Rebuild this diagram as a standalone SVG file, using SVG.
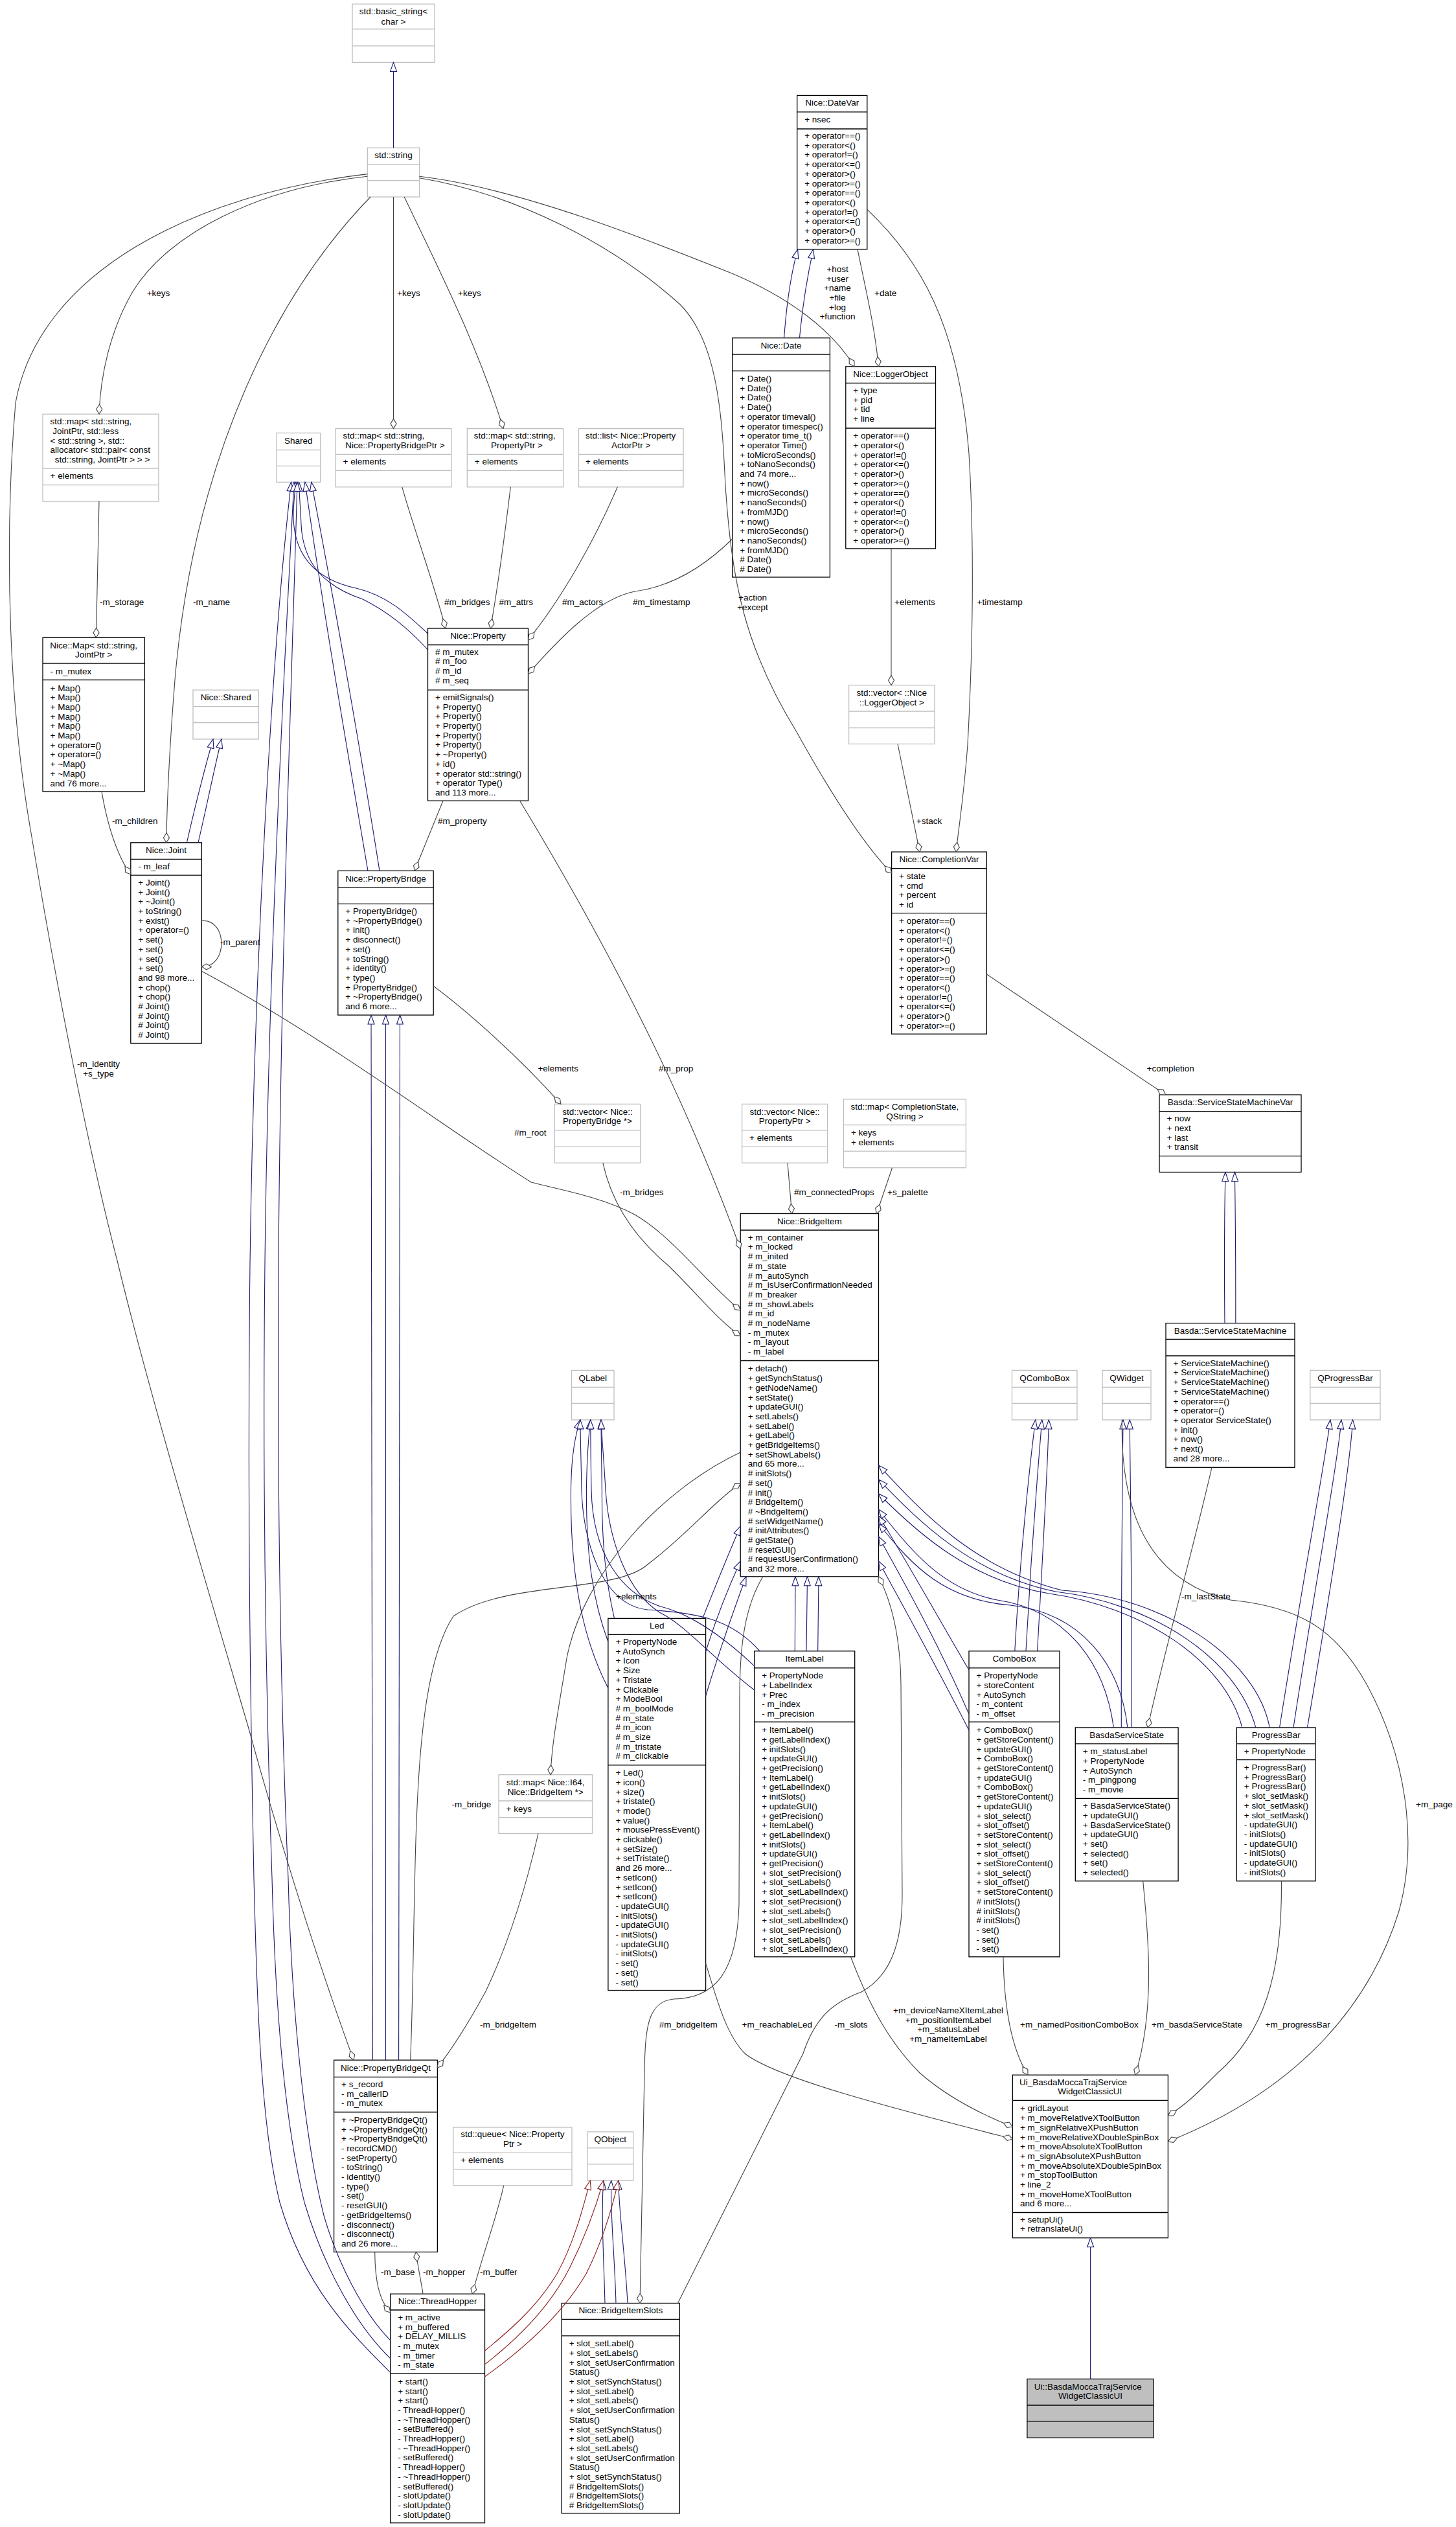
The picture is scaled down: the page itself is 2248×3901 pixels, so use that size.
<svg xmlns="http://www.w3.org/2000/svg" width="2248" height="3901" viewBox="0 0 2248 3901">
<defs>
<style>
.t{font-family:"Liberation Sans",Arial,Helvetica,sans-serif;font-size:13.5px;fill:#000}
.c{text-anchor:middle}
.bk{fill:#fff;stroke:#000;stroke-width:1.3}
.gy{fill:#fff;stroke:#bfbfbf;stroke-width:1.3}
.sk{fill:none;stroke:#000;stroke-width:1.3}
.sg{fill:none;stroke:#bfbfbf;stroke-width:1.3}
.e{fill:none;stroke:#404040;stroke-width:1.1;marker-end:url(#dia)}
.i{fill:none;stroke:#191970;stroke-width:1.1;marker-end:url(#tri)}
.r{fill:none;stroke:#8b1a1a;stroke-width:1.1;marker-end:url(#trir)}
</style>
<marker id="tri" viewBox="0 0 16 12" refX="15" refY="6" markerWidth="16" markerHeight="12" markerUnits="userSpaceOnUse" orient="auto"><path d="M1,1 L15,6 L1,11 Z" fill="#fff" stroke="#191970" stroke-width="1.1"/></marker>
<marker id="trir" viewBox="0 0 16 12" refX="15" refY="6" markerWidth="16" markerHeight="12" markerUnits="userSpaceOnUse" orient="auto"><path d="M1,1 L15,6 L1,11 Z" fill="#fff" stroke="#8b1a1a" stroke-width="1.1"/></marker>
<marker id="dia" viewBox="0 0 17 12" refX="16" refY="6" markerWidth="17" markerHeight="12" markerUnits="userSpaceOnUse" orient="auto"><path d="M1,6 L8.5,1.5 L16,6 L8.5,10.5 Z" fill="#fff" stroke="#404040" stroke-width="1.1"/></marker>
</defs>
<rect x="0" y="0" width="2248" height="3901" fill="#fff"/>

<g id="nodes">
<g id="n_basic_string">
<rect class="gy" x="544" y="6.2" width="127" height="90.2"/>
<path class="sg" d="M544,44.8H671M544,70.9H671"/>
<text class="t c" x="607.5" y="22">std::basic_string&lt;</text>
<text class="t c" x="607.5" y="37.5">char &gt;</text>
</g>
<g id="n_string">
<rect class="gy" x="567.3" y="228.2" width="80.3" height="75.8"/>
<path class="sg" d="M567.3,253.7H647.6M567.3,278.6H647.6"/>
<text class="t c" x="607.5" y="243.9">std::string</text>
</g>
<g id="n_map_joint">
<rect class="gy" x="66" y="639.2" width="178.9" height="134.9"/>
<path class="sg" d="M66,723.1H244.9M66,748.6H244.9"/>
<text class="t" x="77.5" y="654.9">std::map&lt; std::string,</text>
<text class="t" x="81.3" y="669.8">JointPtr, std::less</text>
<text class="t" x="77.5" y="684.7">&lt; std::string &gt;, std::</text>
<text class="t" x="77.5" y="699.1">allocator&lt; std::pair&lt; const</text>
<text class="t" x="84.7" y="714">std::string, JointPtr &gt; &gt; &gt;</text>
<text class="t" x="77.5" y="738.8">+ elements</text>
</g>
<g id="n_shared">
<rect class="gy" x="427.1" y="668.4" width="67.5" height="75.9"/>
<path class="sg" d="M427.1,694.6H494.6M427.1,719.4H494.6"/>
<text class="t c" x="460.8" y="684.7">Shared</text>
</g>
<g id="n_map_pbp">
<rect class="gy" x="518" y="661.6" width="178.9" height="90.2"/>
<path class="sg" d="M518,701.4H696.9M518,726.3H696.9"/>
<text class="t" x="529.5" y="677.3">std::map&lt; std::string,</text>
<text class="t" x="533.3" y="692.2">Nice::PropertyBridgePtr &gt;</text>
<text class="t" x="529.5" y="717.1">+ elements</text>
</g>
<g id="n_map_pp">
<rect class="gy" x="721.3" y="661.6" width="148.3" height="90.2"/>
<path class="sg" d="M721.3,701.4H869.6M721.3,726.3H869.6"/>
<text class="t" x="731.8" y="677.3">std::map&lt; std::string,</text>
<text class="t" x="758.1" y="692.2">PropertyPtr &gt;</text>
<text class="t" x="732.8" y="717.1">+ elements</text>
</g>
<g id="n_list_pa">
<rect class="gy" x="893.5" y="661.6" width="161.5" height="90.2"/>
<path class="sg" d="M893.5,701.4H1055M893.5,726.3H1055"/>
<text class="t" x="904" y="677.3">std::list&lt; Nice::Property</text>
<text class="t" x="944" y="692.2">ActorPtr &gt;</text>
<text class="t" x="904" y="717.1">+ elements</text>
</g>
<g id="n_datevar">
<rect class="bk" x="1230.7" y="147.4" width="108.1" height="237.5"/>
<path class="sk" d="M1230.7,172.9H1338.8M1230.7,199H1338.8"/>
<text class="t c" x="1284.8" y="163.1">Nice::DateVar</text>
<text class="t" x="1242.2" y="189.2">+ nsec</text>
<text class="t" y="214"><tspan x="1242.2">+ operator==()</tspan><tspan x="1242.2" dy="14.7">+ operator&lt;()</tspan><tspan x="1242.2" dy="14.7">+ operator!=()</tspan><tspan x="1242.2" dy="14.7">+ operator&lt;=()</tspan><tspan x="1242.2" dy="14.7">+ operator&gt;()</tspan><tspan x="1242.2" dy="14.7">+ operator&gt;=()</tspan><tspan x="1242.2" dy="14.7">+ operator==()</tspan><tspan x="1242.2" dy="14.7">+ operator&lt;()</tspan><tspan x="1242.2" dy="14.7">+ operator!=()</tspan><tspan x="1242.2" dy="14.7">+ operator&lt;=()</tspan><tspan x="1242.2" dy="14.7">+ operator&gt;()</tspan><tspan x="1242.2" dy="14.7">+ operator&gt;=()</tspan></text>
</g>
<g id="n_date">
<rect class="bk" x="1130.7" y="521.7" width="150.7" height="369.3"/>
<path class="sk" d="M1130.7,547.2H1281.4M1130.7,572.7H1281.4"/>
<text class="t c" x="1206" y="538">Nice::Date</text>
<text class="t" y="589"><tspan x="1142.2">+ Date()</tspan><tspan x="1142.2" dy="14.7">+ Date()</tspan><tspan x="1142.2" dy="14.7">+ Date()</tspan><tspan x="1142.2" dy="14.7">+ Date()</tspan><tspan x="1142.2" dy="14.7">+ operator timeval()</tspan><tspan x="1142.2" dy="14.7">+ operator timespec()</tspan><tspan x="1142.2" dy="14.7">+ operator time_t()</tspan><tspan x="1142.2" dy="14.7">+ operator Time()</tspan><tspan x="1142.2" dy="14.7">+ toMicroSeconds()</tspan><tspan x="1142.2" dy="14.7">+ toNanoSeconds()</tspan><tspan x="1142.2" dy="14.7">and 74 more...</tspan><tspan x="1142.2" dy="14.7">+ now()</tspan><tspan x="1142.2" dy="14.7">+ microSeconds()</tspan><tspan x="1142.2" dy="14.7">+ nanoSeconds()</tspan><tspan x="1142.2" dy="14.7">+ fromMJD()</tspan><tspan x="1142.2" dy="14.7">+ now()</tspan><tspan x="1142.2" dy="14.7">+ microSeconds()</tspan><tspan x="1142.2" dy="14.7">+ nanoSeconds()</tspan><tspan x="1142.2" dy="14.7">+ fromMJD()</tspan><tspan x="1142.2" dy="14.7"># Date()</tspan><tspan x="1142.2" dy="14.7"># Date()</tspan></text>
</g>
<g id="n_logger">
<rect class="bk" x="1305.8" y="565.8" width="138.7" height="281.1"/>
<path class="sk" d="M1305.8,591.3H1444.5M1305.8,661H1444.5"/>
<text class="t c" x="1375.1" y="582.1">Nice::LoggerObject</text>
<text class="t" y="607"><tspan x="1317.3">+ type</tspan><tspan x="1317.3" dy="14.7">+ pid</tspan><tspan x="1317.3" dy="14.7">+ tid</tspan><tspan x="1317.3" dy="14.7">+ line</tspan></text>
<text class="t" y="677.3"><tspan x="1317.3">+ operator==()</tspan><tspan x="1317.3" dy="14.7">+ operator&lt;()</tspan><tspan x="1317.3" dy="14.7">+ operator!=()</tspan><tspan x="1317.3" dy="14.7">+ operator&lt;=()</tspan><tspan x="1317.3" dy="14.7">+ operator&gt;()</tspan><tspan x="1317.3" dy="14.7">+ operator&gt;=()</tspan><tspan x="1317.3" dy="14.7">+ operator==()</tspan><tspan x="1317.3" dy="14.7">+ operator&lt;()</tspan><tspan x="1317.3" dy="14.7">+ operator!=()</tspan><tspan x="1317.3" dy="14.7">+ operator&lt;=()</tspan><tspan x="1317.3" dy="14.7">+ operator&gt;()</tspan><tspan x="1317.3" dy="14.7">+ operator&gt;=()</tspan></text>
</g>
<g id="n_nicemap">
<rect class="bk" x="66" y="984.3" width="157.4" height="237.6"/>
<path class="sk" d="M66,1024.1H223.4M66,1049.6H223.4"/>
<text class="t c" x="144.7" y="1001.3">Nice::Map&lt; std::string,</text>
<text class="t c" x="144.7" y="1014.9">JointPtr &gt;</text>
<text class="t" x="77.5" y="1041.1">- m_mutex</text>
<text class="t" y="1066.5"><tspan x="77.5">+ Map()</tspan><tspan x="77.5" dy="14.7">+ Map()</tspan><tspan x="77.5" dy="14.7">+ Map()</tspan><tspan x="77.5" dy="14.7">+ Map()</tspan><tspan x="77.5" dy="14.7">+ Map()</tspan><tspan x="77.5" dy="14.7">+ Map()</tspan><tspan x="77.5" dy="14.7">+ operator=()</tspan><tspan x="77.5" dy="14.7">+ operator=()</tspan><tspan x="77.5" dy="14.7">+ ~Map()</tspan><tspan x="77.5" dy="14.7">+ ~Map()</tspan><tspan x="77.5" dy="14.7">and 76 more...</tspan></text>
</g>
<g id="n_niceshared">
<rect class="gy" x="298" y="1065.2" width="101.4" height="75.8"/>
<path class="sg" d="M298,1090.7H399.4M298,1115.5H399.4"/>
<text class="t c" x="348.7" y="1080.9">Nice::Shared</text>
</g>
<g id="n_joint">
<rect class="bk" x="201.8" y="1300.8" width="109.6" height="309.7"/>
<path class="sk" d="M201.8,1326.3H311.4M201.8,1351.2H311.4"/>
<text class="t c" x="256.6" y="1317.1">Nice::Joint</text>
<text class="t" x="213.3" y="1342">- m_leaf</text>
<text class="t" y="1366.9"><tspan x="213.3">+ Joint()</tspan><tspan x="213.3" dy="14.7">+ Joint()</tspan><tspan x="213.3" dy="14.7">+ ~Joint()</tspan><tspan x="213.3" dy="14.7">+ toString()</tspan><tspan x="213.3" dy="14.7">+ exist()</tspan><tspan x="213.3" dy="14.7">+ operator=()</tspan><tspan x="213.3" dy="14.7">+ set()</tspan><tspan x="213.3" dy="14.7">+ set()</tspan><tspan x="213.3" dy="14.7">+ set()</tspan><tspan x="213.3" dy="14.7">+ set()</tspan><tspan x="213.3" dy="14.7">and 98 more...</tspan><tspan x="213.3" dy="14.7">+ chop()</tspan><tspan x="213.3" dy="14.7">+ chop()</tspan><tspan x="213.3" dy="14.7"># Joint()</tspan><tspan x="213.3" dy="14.7"># Joint()</tspan><tspan x="213.3" dy="14.7"># Joint()</tspan><tspan x="213.3" dy="14.7"># Joint()</tspan></text>
</g>
<g id="n_property">
<rect class="bk" x="660.5" y="970" width="155" height="266.2"/>
<path class="sk" d="M660.5,995.5H815.5M660.5,1065.2H815.5"/>
<text class="t c" x="738" y="985.7">Nice::Property</text>
<text class="t" y="1010.6"><tspan x="672">#&#160;m_mutex</tspan><tspan x="672" dy="14.7">#&#160;m_foo</tspan><tspan x="672" dy="14.7">#&#160;m_id</tspan><tspan x="672" dy="14.7">#&#160;m_seq</tspan></text>
<text class="t" y="1080.9"><tspan x="672">+ emitSignals()</tspan><tspan x="672" dy="14.7">+ Property()</tspan><tspan x="672" dy="14.7">+ Property()</tspan><tspan x="672" dy="14.7">+ Property()</tspan><tspan x="672" dy="14.7">+ Property()</tspan><tspan x="672" dy="14.7">+ Property()</tspan><tspan x="672" dy="14.7">+ ~Property()</tspan><tspan x="672" dy="14.7">+ id()</tspan><tspan x="672" dy="14.7">+ operator std::string()</tspan><tspan x="672" dy="14.7">+ operator Type()</tspan><tspan x="672" dy="14.7">and 113 more...</tspan></text>
</g>
<g id="n_propbridge">
<rect class="bk" x="521.8" y="1344.3" width="147.4" height="222.7"/>
<path class="sk" d="M521.8,1369.8H669.2M521.8,1395.3H669.2"/>
<text class="t c" x="595.5" y="1361.3">Nice::PropertyBridge</text>
<text class="t" y="1411"><tspan x="533.3">+ PropertyBridge()</tspan><tspan x="533.3" dy="14.7">+ ~PropertyBridge()</tspan><tspan x="533.3" dy="14.7">+ init()</tspan><tspan x="533.3" dy="14.7">+ disconnect()</tspan><tspan x="533.3" dy="14.7">+ set()</tspan><tspan x="533.3" dy="14.7">+ toString()</tspan><tspan x="533.3" dy="14.7">+ identity()</tspan><tspan x="533.3" dy="14.7">+ type()</tspan><tspan x="533.3" dy="14.7">+ PropertyBridge()</tspan><tspan x="533.3" dy="14.7">+ ~PropertyBridge()</tspan><tspan x="533.3" dy="14.7">and 6 more...</tspan></text>
</g>
<g id="n_vec_logger">
<rect class="gy" x="1310.6" y="1057.7" width="132.4" height="90.8"/>
<path class="sg" d="M1310.6,1098H1443M1310.6,1123.6H1443"/>
<text class="t c" x="1376.8" y="1074">std::vector&lt; ::Nice</text>
<text class="t c" x="1376.8" y="1088.9">::LoggerObject &gt;</text>
</g>
<g id="n_completionvar">
<rect class="bk" x="1376.6" y="1315.1" width="146.8" height="281.1"/>
<path class="sk" d="M1376.6,1340.6H1523.4M1376.6,1409.6H1523.4"/>
<text class="t c" x="1450" y="1330.8">Nice::CompletionVar</text>
<text class="t" y="1356.9"><tspan x="1388.1">+ state</tspan><tspan x="1388.1" dy="14.7">+ cmd</tspan><tspan x="1388.1" dy="14.7">+ percent</tspan><tspan x="1388.1" dy="14.7">+ id</tspan></text>
<text class="t" y="1426"><tspan x="1388.1">+ operator==()</tspan><tspan x="1388.1" dy="14.7">+ operator&lt;()</tspan><tspan x="1388.1" dy="14.7">+ operator!=()</tspan><tspan x="1388.1" dy="14.7">+ operator&lt;=()</tspan><tspan x="1388.1" dy="14.7">+ operator&gt;()</tspan><tspan x="1388.1" dy="14.7">+ operator&gt;=()</tspan><tspan x="1388.1" dy="14.7">+ operator==()</tspan><tspan x="1388.1" dy="14.7">+ operator&lt;()</tspan><tspan x="1388.1" dy="14.7">+ operator!=()</tspan><tspan x="1388.1" dy="14.7">+ operator&lt;=()</tspan><tspan x="1388.1" dy="14.7">+ operator&gt;()</tspan><tspan x="1388.1" dy="14.7">+ operator&gt;=()</tspan></text>
</g>
<g id="n_vec_pb">
<rect class="gy" x="856.2" y="1704.4" width="132.5" height="90.8"/>
<path class="sg" d="M856.2,1744.8H988.7M856.2,1770.3H988.7"/>
<text class="t c" x="922.5" y="1720.7">std::vector&lt; Nice::</text>
<text class="t c" x="922.5" y="1735">PropertyBridge *&gt;</text>
</g>
<g id="n_vec_pp">
<rect class="gy" x="1145.6" y="1704.4" width="132" height="90.8"/>
<path class="sg" d="M1145.6,1744.8H1277.6M1145.6,1770.3H1277.6"/>
<text class="t c" x="1211.6" y="1720.7">std::vector&lt; Nice::</text>
<text class="t c" x="1211.6" y="1735">PropertyPtr &gt;</text>
<text class="t" x="1157.1" y="1761.1">+ elements</text>
</g>
<g id="n_map_cs">
<rect class="gy" x="1302.4" y="1696.9" width="189" height="105.8"/>
<path class="sg" d="M1302.4,1736.7H1491.4M1302.4,1777.1H1491.4"/>
<text class="t c" x="1396.9" y="1713.2">std::map&lt; CompletionState,</text>
<text class="t c" x="1396.9" y="1728.1">QString &gt;</text>
<text class="t" y="1753"><tspan x="1313.9">+ keys</tspan><tspan x="1313.9" dy="14.7">+ elements</tspan></text>
</g>
<g id="n_bridgeitem">
<rect class="bk" x="1143.2" y="1873.5" width="213.3" height="560.3"/>
<path class="sk" d="M1143.2,1899H1356.5M1143.2,2100.5H1356.5"/>
<text class="t c" x="1249.9" y="1889.8">Nice::BridgeItem</text>
<text class="t" y="1914.7"><tspan x="1154.7">+ m_container</tspan><tspan x="1154.7" dy="14.7">+ m_locked</tspan><tspan x="1154.7" dy="14.7">#&#160;m_inited</tspan><tspan x="1154.7" dy="14.7">#&#160;m_state</tspan><tspan x="1154.7" dy="14.7">#&#160;m_autoSynch</tspan><tspan x="1154.7" dy="14.7">#&#160;m_isUserConfirmationNeeded</tspan><tspan x="1154.7" dy="14.7">#&#160;m_breaker</tspan><tspan x="1154.7" dy="14.7">#&#160;m_showLabels</tspan><tspan x="1154.7" dy="14.7">#&#160;m_id</tspan><tspan x="1154.7" dy="14.7">#&#160;m_nodeName</tspan><tspan x="1154.7" dy="14.7">- m_mutex</tspan><tspan x="1154.7" dy="14.7">- m_layout</tspan><tspan x="1154.7" dy="14.7">- m_label</tspan></text>
<text class="t" y="2117.4"><tspan x="1154.7">+ detach()</tspan><tspan x="1154.7" dy="14.7">+ getSynchStatus()</tspan><tspan x="1154.7" dy="14.7">+ getNodeName()</tspan><tspan x="1154.7" dy="14.7">+ setState()</tspan><tspan x="1154.7" dy="14.7">+ updateGUI()</tspan><tspan x="1154.7" dy="14.7">+ setLabels()</tspan><tspan x="1154.7" dy="14.7">+ setLabel()</tspan><tspan x="1154.7" dy="14.7">+ getLabel()</tspan><tspan x="1154.7" dy="14.7">+ getBridgeItems()</tspan><tspan x="1154.7" dy="14.7">+ setShowLabels()</tspan><tspan x="1154.7" dy="14.7">and 65 more...</tspan><tspan x="1154.7" dy="14.7">#&#160;initSlots()</tspan><tspan x="1154.7" dy="14.7">#&#160;set()</tspan><tspan x="1154.7" dy="14.7">#&#160;init()</tspan><tspan x="1154.7" dy="14.7">#&#160;BridgeItem()</tspan><tspan x="1154.7" dy="14.7">#&#160;~BridgeItem()</tspan><tspan x="1154.7" dy="14.7">#&#160;setWidgetName()</tspan><tspan x="1154.7" dy="14.7">#&#160;initAttributes()</tspan><tspan x="1154.7" dy="14.7">#&#160;getState()</tspan><tspan x="1154.7" dy="14.7">#&#160;resetGUI()</tspan><tspan x="1154.7" dy="14.7">#&#160;requestUserConfirmation()</tspan><tspan x="1154.7" dy="14.7">and 32 more...</tspan></text>
</g>
<g id="n_ssmvar">
<rect class="bk" x="1790" y="1690" width="219" height="119.5"/>
<path class="sk" d="M1790,1715.6H2009M1790,1784.6H2009"/>
<text class="t c" x="1899.5" y="1705.8">Basda::ServiceStateMachineVar</text>
<text class="t" y="1731.3"><tspan x="1801.5">+ now</tspan><tspan x="1801.5" dy="14.7">+ next</tspan><tspan x="1801.5" dy="14.7">+ last</tspan><tspan x="1801.5" dy="14.7">+ transit</tspan></text>
</g>
<g id="n_ssm">
<rect class="bk" x="1800" y="2042.6" width="199" height="222.7"/>
<path class="sk" d="M1800,2067.5H1999M1800,2093H1999"/>
<text class="t c" x="1899.5" y="2059">Basda::ServiceStateMachine</text>
<text class="t" y="2108.7"><tspan x="1811.5">+ ServiceStateMachine()</tspan><tspan x="1811.5" dy="14.7">+ ServiceStateMachine()</tspan><tspan x="1811.5" dy="14.7">+ ServiceStateMachine()</tspan><tspan x="1811.5" dy="14.7">+ ServiceStateMachine()</tspan><tspan x="1811.5" dy="14.7">+ operator==()</tspan><tspan x="1811.5" dy="14.7">+ operator=()</tspan><tspan x="1811.5" dy="14.7">+ operator ServiceState()</tspan><tspan x="1811.5" dy="14.7">+ init()</tspan><tspan x="1811.5" dy="14.7">+ now()</tspan><tspan x="1811.5" dy="14.7">+ next()</tspan><tspan x="1811.5" dy="14.7">and 28 more...</tspan></text>
</g>
<g id="n_qlabel">
<rect class="gy" x="882.5" y="2115.4" width="65.5" height="76.5"/>
<path class="sg" d="M882.5,2141.5H948M882.5,2166.4H948"/>
<text class="t c" x="915.2" y="2131.7">QLabel</text>
</g>
<g id="n_qcombobox">
<rect class="gy" x="1562.5" y="2115.4" width="100.5" height="76.5"/>
<path class="sg" d="M1562.5,2141.5H1663M1562.5,2166.4H1663"/>
<text class="t c" x="1612.8" y="2131.7">QComboBox</text>
</g>
<g id="n_qwidget">
<rect class="gy" x="1702" y="2115.4" width="75" height="76.5"/>
<path class="sg" d="M1702,2141.5H1777M1702,2166.4H1777"/>
<text class="t c" x="1739.5" y="2131.7">QWidget</text>
</g>
<g id="n_qprogressbar">
<rect class="gy" x="2022.8" y="2115.4" width="108.2" height="76.5"/>
<path class="sg" d="M2022.8,2141.5H2131M2022.8,2166.4H2131"/>
<text class="t c" x="2076.9" y="2131.7">QProgressBar</text>
</g>
<g id="n_led">
<rect class="bk" x="938.9" y="2498.4" width="150.7" height="574.1"/>
<path class="sk" d="M938.9,2523.3H1089.6M938.9,2724.8H1089.6"/>
<text class="t c" x="1014.3" y="2514.1">Led</text>
<text class="t" y="2539"><tspan x="950.4">+ PropertyNode</tspan><tspan x="950.4" dy="14.7">+ AutoSynch</tspan><tspan x="950.4" dy="14.7">+ Icon</tspan><tspan x="950.4" dy="14.7">+ Size</tspan><tspan x="950.4" dy="14.7">+ Tristate</tspan><tspan x="950.4" dy="14.7">+ Clickable</tspan><tspan x="950.4" dy="14.7">+ ModeBool</tspan><tspan x="950.4" dy="14.7">#&#160;m_boolMode</tspan><tspan x="950.4" dy="14.7">#&#160;m_state</tspan><tspan x="950.4" dy="14.7">#&#160;m_icon</tspan><tspan x="950.4" dy="14.7">#&#160;m_size</tspan><tspan x="950.4" dy="14.7">#&#160;m_tristate</tspan><tspan x="950.4" dy="14.7">#&#160;m_clickable</tspan></text>
<text class="t" y="2741.1"><tspan x="950.4">+ Led()</tspan><tspan x="950.4" dy="14.7">+ icon()</tspan><tspan x="950.4" dy="14.7">+ size()</tspan><tspan x="950.4" dy="14.7">+ tristate()</tspan><tspan x="950.4" dy="14.7">+ mode()</tspan><tspan x="950.4" dy="14.7">+ value()</tspan><tspan x="950.4" dy="14.7">+ mousePressEvent()</tspan><tspan x="950.4" dy="14.7">+ clickable()</tspan><tspan x="950.4" dy="14.7">+ setSize()</tspan><tspan x="950.4" dy="14.7">+ setTristate()</tspan><tspan x="950.4" dy="14.7">and 26 more...</tspan><tspan x="950.4" dy="14.7">+ setIcon()</tspan><tspan x="950.4" dy="14.7">+ setIcon()</tspan><tspan x="950.4" dy="14.7">+ setIcon()</tspan><tspan x="950.4" dy="14.7">- updateGUI()</tspan><tspan x="950.4" dy="14.7">- initSlots()</tspan><tspan x="950.4" dy="14.7">- updateGUI()</tspan><tspan x="950.4" dy="14.7">- initSlots()</tspan><tspan x="950.4" dy="14.7">- updateGUI()</tspan><tspan x="950.4" dy="14.7">- initSlots()</tspan><tspan x="950.4" dy="14.7">- set()</tspan><tspan x="950.4" dy="14.7">- set()</tspan><tspan x="950.4" dy="14.7">- set()</tspan></text>
</g>
<g id="n_itemlabel">
<rect class="bk" x="1164.7" y="2548.8" width="155" height="472"/>
<path class="sk" d="M1164.7,2574.9H1319.7M1164.7,2658.2H1319.7"/>
<text class="t c" x="1242.2" y="2565.1">ItemLabel</text>
<text class="t" y="2591.2"><tspan x="1176.2">+ PropertyNode</tspan><tspan x="1176.2" dy="14.7">+ LabelIndex</tspan><tspan x="1176.2" dy="14.7">+ Prec</tspan><tspan x="1176.2" dy="14.7">- m_index</tspan><tspan x="1176.2" dy="14.7">- m_precision</tspan></text>
<text class="t" y="2675.2"><tspan x="1176.2">+ ItemLabel()</tspan><tspan x="1176.2" dy="14.7">+ getLabelIndex()</tspan><tspan x="1176.2" dy="14.7">+ initSlots()</tspan><tspan x="1176.2" dy="14.7">+ updateGUI()</tspan><tspan x="1176.2" dy="14.7">+ getPrecision()</tspan><tspan x="1176.2" dy="14.7">+ ItemLabel()</tspan><tspan x="1176.2" dy="14.7">+ getLabelIndex()</tspan><tspan x="1176.2" dy="14.7">+ initSlots()</tspan><tspan x="1176.2" dy="14.7">+ updateGUI()</tspan><tspan x="1176.2" dy="14.7">+ getPrecision()</tspan><tspan x="1176.2" dy="14.7">+ ItemLabel()</tspan><tspan x="1176.2" dy="14.7">+ getLabelIndex()</tspan><tspan x="1176.2" dy="14.7">+ initSlots()</tspan><tspan x="1176.2" dy="14.7">+ updateGUI()</tspan><tspan x="1176.2" dy="14.7">+ getPrecision()</tspan><tspan x="1176.2" dy="14.7">+ slot_setPrecision()</tspan><tspan x="1176.2" dy="14.7">+ slot_setLabels()</tspan><tspan x="1176.2" dy="14.7">+ slot_setLabelIndex()</tspan><tspan x="1176.2" dy="14.7">+ slot_setPrecision()</tspan><tspan x="1176.2" dy="14.7">+ slot_setLabels()</tspan><tspan x="1176.2" dy="14.7">+ slot_setLabelIndex()</tspan><tspan x="1176.2" dy="14.7">+ slot_setPrecision()</tspan><tspan x="1176.2" dy="14.7">+ slot_setLabels()</tspan><tspan x="1176.2" dy="14.7">+ slot_setLabelIndex()</tspan></text>
</g>
<g id="n_combobox">
<rect class="bk" x="1496" y="2548.8" width="140" height="472"/>
<path class="sk" d="M1496,2574.9H1636M1496,2658.2H1636"/>
<text class="t c" x="1566" y="2565.1">ComboBox</text>
<text class="t" y="2591.2"><tspan x="1507.5">+ PropertyNode</tspan><tspan x="1507.5" dy="14.7">+ storeContent</tspan><tspan x="1507.5" dy="14.7">+ AutoSynch</tspan><tspan x="1507.5" dy="14.7">- m_content</tspan><tspan x="1507.5" dy="14.7">- m_offset</tspan></text>
<text class="t" y="2675.2"><tspan x="1507.5">+ ComboBox()</tspan><tspan x="1507.5" dy="14.7">+ getStoreContent()</tspan><tspan x="1507.5" dy="14.7">+ updateGUI()</tspan><tspan x="1507.5" dy="14.7">+ ComboBox()</tspan><tspan x="1507.5" dy="14.7">+ getStoreContent()</tspan><tspan x="1507.5" dy="14.7">+ updateGUI()</tspan><tspan x="1507.5" dy="14.7">+ ComboBox()</tspan><tspan x="1507.5" dy="14.7">+ getStoreContent()</tspan><tspan x="1507.5" dy="14.7">+ updateGUI()</tspan><tspan x="1507.5" dy="14.7">+ slot_select()</tspan><tspan x="1507.5" dy="14.7">+ slot_offset()</tspan><tspan x="1507.5" dy="14.7">+ setStoreContent()</tspan><tspan x="1507.5" dy="14.7">+ slot_select()</tspan><tspan x="1507.5" dy="14.7">+ slot_offset()</tspan><tspan x="1507.5" dy="14.7">+ setStoreContent()</tspan><tspan x="1507.5" dy="14.7">+ slot_select()</tspan><tspan x="1507.5" dy="14.7">+ slot_offset()</tspan><tspan x="1507.5" dy="14.7">+ setStoreContent()</tspan><tspan x="1507.5" dy="14.7">#&#160;initSlots()</tspan><tspan x="1507.5" dy="14.7">#&#160;initSlots()</tspan><tspan x="1507.5" dy="14.7">#&#160;initSlots()</tspan><tspan x="1507.5" dy="14.7">- set()</tspan><tspan x="1507.5" dy="14.7">- set()</tspan><tspan x="1507.5" dy="14.7">- set()</tspan></text>
</g>
<g id="n_basdaservicestate">
<rect class="bk" x="1660.3" y="2666.9" width="158.8" height="236.9"/>
<path class="sk" d="M1660.3,2691.8H1819.1M1660.3,2776.4H1819.1"/>
<text class="t c" x="1739.7" y="2683.3">BasdaServiceState</text>
<text class="t" y="2708.1"><tspan x="1671.8">+ m_statusLabel</tspan><tspan x="1671.8" dy="14.7">+ PropertyNode</tspan><tspan x="1671.8" dy="14.7">+ AutoSynch</tspan><tspan x="1671.8" dy="14.7">- m_pingpong</tspan><tspan x="1671.8" dy="14.7">- m_movie</tspan></text>
<text class="t" y="2792.1"><tspan x="1671.8">+ BasdaServiceState()</tspan><tspan x="1671.8" dy="14.7">+ updateGUI()</tspan><tspan x="1671.8" dy="14.7">+ BasdaServiceState()</tspan><tspan x="1671.8" dy="14.7">+ updateGUI()</tspan><tspan x="1671.8" dy="14.7">+ set()</tspan><tspan x="1671.8" dy="14.7">+ selected()</tspan><tspan x="1671.8" dy="14.7">+ set()</tspan><tspan x="1671.8" dy="14.7">+ selected()</tspan></text>
</g>
<g id="n_progressbar">
<rect class="bk" x="1909.3" y="2666.9" width="121.7" height="236.9"/>
<path class="sk" d="M1909.3,2691.8H2031M1909.3,2716.7H2031"/>
<text class="t c" x="1970.2" y="2683.3">ProgressBar</text>
<text class="t" x="1920.8" y="2708.1">+ PropertyNode</text>
<text class="t" y="2733"><tspan x="1920.8">+ ProgressBar()</tspan><tspan x="1920.8" dy="14.7">+ ProgressBar()</tspan><tspan x="1920.8" dy="14.7">+ ProgressBar()</tspan><tspan x="1920.8" dy="14.7">+ slot_setMask()</tspan><tspan x="1920.8" dy="14.7">+ slot_setMask()</tspan><tspan x="1920.8" dy="14.7">+ slot_setMask()</tspan><tspan x="1920.8" dy="14.7">- updateGUI()</tspan><tspan x="1920.8" dy="14.7">- initSlots()</tspan><tspan x="1920.8" dy="14.7">- updateGUI()</tspan><tspan x="1920.8" dy="14.7">- initSlots()</tspan><tspan x="1920.8" dy="14.7">- updateGUI()</tspan><tspan x="1920.8" dy="14.7">- initSlots()</tspan></text>
</g>
<g id="n_map_i64">
<rect class="gy" x="770" y="2739.7" width="144.5" height="90.8"/>
<path class="sg" d="M770,2780H914.5M770,2805.6H914.5"/>
<text class="t c" x="842.2" y="2756">std::map&lt; Nice::I64,</text>
<text class="t c" x="842.2" y="2770.9">Nice::BridgeItem *&gt;</text>
<text class="t" x="781.5" y="2796.5">+ keys</text>
</g>
<g id="n_propbridgeqt">
<rect class="bk" x="515.6" y="3180.2" width="159.8" height="296.3"/>
<path class="sk" d="M515.6,3206.3H675.4M515.6,3260.5H675.4"/>
<text class="t c" x="595.5" y="3197.1">Nice::PropertyBridgeQt</text>
<text class="t" y="3222"><tspan x="527.1">+ s_record</tspan><tspan x="527.1" dy="14.7">- m_callerID</tspan><tspan x="527.1" dy="14.7">- m_mutex</tspan></text>
<text class="t" y="3276.8"><tspan x="527.1">+ ~PropertyBridgeQt()</tspan><tspan x="527.1" dy="14.7">+ ~PropertyBridgeQt()</tspan><tspan x="527.1" dy="14.7">+ ~PropertyBridgeQt()</tspan><tspan x="527.1" dy="14.7">- recordCMD()</tspan><tspan x="527.1" dy="14.7">- setProperty()</tspan><tspan x="527.1" dy="14.7">- toString()</tspan><tspan x="527.1" dy="14.7">- identity()</tspan><tspan x="527.1" dy="14.7">- type()</tspan><tspan x="527.1" dy="14.7">- set()</tspan><tspan x="527.1" dy="14.7">- resetGUI()</tspan><tspan x="527.1" dy="14.7">- getBridgeItems()</tspan><tspan x="527.1" dy="14.7">- disconnect()</tspan><tspan x="527.1" dy="14.7">- disconnect()</tspan><tspan x="527.1" dy="14.7">and 26 more...</tspan></text>
</g>
<g id="n_queue">
<rect class="gy" x="699.8" y="3284" width="183.2" height="89.8"/>
<path class="sg" d="M699.8,3323.3H883M699.8,3348.9H883"/>
<text class="t c" x="791.4" y="3299.2">std::queue&lt; Nice::Property</text>
<text class="t c" x="791.4" y="3314.1">Ptr &gt;</text>
<text class="t" x="711.3" y="3339">+ elements</text>
</g>
<g id="n_qobject">
<rect class="gy" x="906.9" y="3290.9" width="70.8" height="75.4"/>
<path class="sg" d="M906.9,3315.9H977.7M906.9,3340.8H977.7"/>
<text class="t c" x="942.3" y="3306.7">QObject</text>
</g>
<g id="n_threadhopper">
<rect class="bk" x="602.7" y="3541.2" width="145.8" height="353.5"/>
<path class="sk" d="M602.7,3566H748.5M602.7,3664.4H748.5"/>
<text class="t c" x="675.6" y="3556.9">Nice::ThreadHopper</text>
<text class="t" y="3581.8"><tspan x="614.2">+ m_active</tspan><tspan x="614.2" dy="14.7">+ m_buffered</tspan><tspan x="614.2" dy="14.7">+ DELAY_MILLIS</tspan><tspan x="614.2" dy="14.7">- m_mutex</tspan><tspan x="614.2" dy="14.7">- m_timer</tspan><tspan x="614.2" dy="14.7">- m_state</tspan></text>
<text class="t" y="3680.8"><tspan x="614.2">+ start()</tspan><tspan x="614.2" dy="14.7">+ start()</tspan><tspan x="614.2" dy="14.7">+ start()</tspan><tspan x="614.2" dy="14.7">- ThreadHopper()</tspan><tspan x="614.2" dy="14.7">- ~ThreadHopper()</tspan><tspan x="614.2" dy="14.7">- setBuffered()</tspan><tspan x="614.2" dy="14.7">- ThreadHopper()</tspan><tspan x="614.2" dy="14.7">- ~ThreadHopper()</tspan><tspan x="614.2" dy="14.7">- setBuffered()</tspan><tspan x="614.2" dy="14.7">- ThreadHopper()</tspan><tspan x="614.2" dy="14.7">- ~ThreadHopper()</tspan><tspan x="614.2" dy="14.7">- setBuffered()</tspan><tspan x="614.2" dy="14.7">- slotUpdate()</tspan><tspan x="614.2" dy="14.7">- slotUpdate()</tspan><tspan x="614.2" dy="14.7">- slotUpdate()</tspan></text>
</g>
<g id="n_bridgeitemslots">
<rect class="bk" x="867.2" y="3555.5" width="182.2" height="324.3"/>
<path class="sk" d="M867.2,3580.4H1049.4M867.2,3605.9H1049.4"/>
<text class="t c" x="958.3" y="3571.2">Nice::BridgeItemSlots</text>
<text class="t" y="3622.2"><tspan x="878.7">+ slot_setLabel()</tspan><tspan x="878.7" dy="14.7">+ slot_setLabels()</tspan><tspan x="878.7" dy="14.7">+ slot_setUserConfirmation</tspan><tspan x="878.7" dy="14.7">Status()</tspan><tspan x="878.7" dy="14.7">+ slot_setSynchStatus()</tspan><tspan x="878.7" dy="14.7">+ slot_setLabel()</tspan><tspan x="878.7" dy="14.7">+ slot_setLabels()</tspan><tspan x="878.7" dy="14.7">+ slot_setUserConfirmation</tspan><tspan x="878.7" dy="14.7">Status()</tspan><tspan x="878.7" dy="14.7">+ slot_setSynchStatus()</tspan><tspan x="878.7" dy="14.7">+ slot_setLabel()</tspan><tspan x="878.7" dy="14.7">+ slot_setLabels()</tspan><tspan x="878.7" dy="14.7">+ slot_setUserConfirmation</tspan><tspan x="878.7" dy="14.7">Status()</tspan><tspan x="878.7" dy="14.7">+ slot_setSynchStatus()</tspan><tspan x="878.7" dy="14.7">#&#160;BridgeItemSlots()</tspan><tspan x="878.7" dy="14.7">#&#160;BridgeItemSlots()</tspan><tspan x="878.7" dy="14.7">#&#160;BridgeItemSlots()</tspan></text>
</g>
<g id="n_ui_widget">
<rect class="bk" x="1563.4" y="3203.2" width="240" height="251.5"/>
<path class="sk" d="M1563.4,3242.4H1803.4M1563.4,3415.5H1803.4"/>
<text class="t" x="1574" y="3218.9">Ui_BasdaMoccaTrajService</text>
<text class="t c" x="1682.7" y="3233.2">WidgetClassicUI</text>
<text class="t" y="3259.4"><tspan x="1574.9">+ gridLayout</tspan><tspan x="1574.9" dy="14.7">+ m_moveRelativeXToolButton</tspan><tspan x="1574.9" dy="14.7">+ m_signRelativeXPushButton</tspan><tspan x="1574.9" dy="14.7">+ m_moveRelativeXDoubleSpinBox</tspan><tspan x="1574.9" dy="14.7">+ m_moveAbsoluteXToolButton</tspan><tspan x="1574.9" dy="14.7">+ m_signAbsoluteXPushButton</tspan><tspan x="1574.9" dy="14.7">+ m_moveAbsoluteXDoubleSpinBox</tspan><tspan x="1574.9" dy="14.7">+ m_stopToolButton</tspan><tspan x="1574.9" dy="14.7">+ line_2</tspan><tspan x="1574.9" dy="14.7">+ m_moveHomeXToolButton</tspan><tspan x="1574.9" dy="14.7">and 6 more...</tspan></text>
<text class="t" y="3430.5"><tspan x="1574.9">+ setupUi()</tspan><tspan x="1574.9" dy="14.7">+ retranslateUi()</tspan></text>
</g>
<g id="n_ui_ns">
<rect x="1585.9" y="3672.5" width="195.1" height="90.9" fill="#bfbfbf" stroke="#000" stroke-width="1.3"/>
<path class="sk" d="M1585.9,3713H1781M1585.9,3737.9H1781"/>
<text class="t" x="1596.8" y="3688.8">Ui::BasdaMoccaTrajService</text>
<text class="t c" x="1683.5" y="3703.2">WidgetClassicUI</text>
</g>
</g>

<g id="edges">
<!-- inheritance -->
<path class="i" d="M607.5,228.2 L607.5,96.4"/>
<path class="i" d="M1210.6,521.7 C1215,460 1222,420 1231.6,384.9"/>
<path class="i" d="M1234.5,521.7 C1240,460 1248,420 1255.6,384.9"/>
<path class="i" d="M288.4,1300.8 C300,1250 315,1190 329,1141"/>
<path class="i" d="M306,1300.8 C318,1250 330,1190 342,1141"/>
<path class="i" d="M660.5,978 C630,950 600,920 550,908 C490,895 455,860 453,800 C453,775 455,760 456.8,744.3"/>
<path class="i" d="M660.5,1003 C630,970 600,945 560,925 C500,905 468,870 465,810 C464,785 462,765 461.6,744.3"/>
<path class="i" d="M568,1344.3 C540,1180 500,950 471,744.3"/>
<path class="i" d="M586,1344.3 C560,1180 520,950 480.7,744.3"/>
<path class="i" d="M602.7,3662.6 C540,3600 470,3530 432,3400 C400,3270 396,3050 392,2900 C386,2600 382,2300 386,1950 C392,1500 420,1000 449.6,744.3"/>
<path class="i" d="M602.7,3640.8 C550,3590 500,3500 470,3400 C440,3280 425,3100 420,2900 C410,2600 405,2300 409,1950 C414,1500 440,1000 454,744.3"/>
<path class="i" d="M602.7,3612.8 C560,3570 520,3490 500,3420 C470,3300 450,3100 445,2900 C432,2600 428,2300 430,1950 C433,1500 452,1000 459,744.3"/>
<path class="i" d="M575.4,3180.2 L573,1567"/>
<path class="i" d="M595.5,3180.2 L595.5,1567"/>
<path class="i" d="M615.6,3180.2 L617.5,1567"/>
<path class="i" d="M1891,2042.6 C1890,1950 1891,1850 1892,1809.5"/>
<path class="i" d="M1907.8,2042.6 C1908,1950 1907,1850 1906.4,1809.5"/>
<path class="i" d="M1084.8,2498.4 C1100,2460 1120,2410 1143.2,2356"/>
<path class="i" d="M1089.6,2550 C1105,2500 1125,2450 1143.2,2410"/>
<path class="i" d="M1089.6,2618 C1110,2550 1135,2480 1152,2433.8"/>
<path class="i" d="M1227.3,2548.8 L1228,2433.8"/>
<path class="i" d="M1245,2548.8 L1246.5,2433.8"/>
<path class="i" d="M1262.7,2548.8 L1264,2433.8"/>
<path class="i" d="M1496,2578 C1450,2500 1400,2410 1356.5,2340"/>
<path class="i" d="M1496,2646 C1450,2540 1400,2450 1356.5,2372"/>
<path class="i" d="M1496,2671 C1450,2580 1400,2490 1356.5,2410"/>
<path class="i" d="M1960.3,2666.9 C1940,2560 1800,2465 1640,2455 C1500,2420 1420,2330 1356.5,2262"/>
<path class="i" d="M1938.8,2666.9 C1910,2560 1780,2475 1630,2457 C1500,2430 1420,2350 1356.5,2284"/>
<path class="i" d="M1917.9,2666.9 C1890,2560 1760,2480 1620,2460 C1500,2440 1420,2370 1356.5,2306"/>
<path class="i" d="M1719.4,2666.9 C1705,2560 1640,2485 1540,2470 C1460,2455 1410,2400 1356.5,2330"/>
<path class="i" d="M1740.9,2666.9 C1730,2570 1670,2490 1560,2478 C1460,2470 1410,2420 1356.5,2352"/>
<path class="i" d="M938.9,2606 C905,2540 880,2450 881.5,2300 C882,2250 888,2215 895.9,2191.9"/>
<path class="i" d="M938.9,2534.5 C915,2470 905,2400 905.4,2300 C906,2250 909,2215 911.7,2191.9"/>
<path class="i" d="M948.5,2498.4 C935,2440 929,2380 929.4,2300 C929,2250 928,2215 927.9,2191.9"/>
<path class="i" d="M1173,2548.8 C1130,2500 1080,2490 1000,2485 C930,2478 900,2380 898,2300 C897,2250 896,2215 895.9,2191.9"/>
<path class="i" d="M1164.7,2571.8 C1110,2520 1060,2490 1020,2480 C960,2460 915,2400 913,2300 C912,2250 912,2215 911.7,2191.9"/>
<path class="i" d="M1164.7,2609 C1100,2560 1060,2510 1020,2490 C970,2460 940,2380 935,2300 C932,2250 929,2215 927.9,2191.9"/>
<path class="i" d="M1566.8,2548.8 C1575,2400 1590,2260 1598.7,2191.9"/>
<path class="i" d="M1584,2548.8 C1592,2400 1603,2260 1608.8,2191.9"/>
<path class="i" d="M1601.6,2548.8 C1610,2400 1618,2260 1619.3,2191.9"/>
<path class="i" d="M1731.3,2666.9 C1731,2450 1733,2280 1734,2191.9"/>
<path class="i" d="M1747,2666.9 C1748,2450 1745,2280 1744.2,2191.9"/>
<path class="i" d="M1975.6,2666.9 C2010,2450 2045,2260 2054,2191.9"/>
<path class="i" d="M1997,2666.9 C2030,2450 2065,2260 2071,2191.9"/>
<path class="i" d="M2018.5,2666.9 C2055,2450 2085,2260 2088.6,2191.9"/>
<path class="i" d="M934,3555.5 C932,3480 928,3420 931.7,3366.3"/>
<path class="i" d="M951,3555.5 C949,3480 942,3420 943.7,3366.3"/>
<path class="i" d="M969,3555.5 C965,3480 956,3420 954.7,3366.3"/>
<path class="r" d="M748.5,3629 C790,3595 830,3560 860,3510 C885,3465 900,3410 911.2,3366.3"/>
<path class="r" d="M748.5,3650 C800,3610 850,3560 880,3500 C905,3450 922,3400 931.7,3366.3"/>
<path class="r" d="M748.5,3669 C810,3625 870,3570 905,3510 C930,3460 945,3410 954.7,3366.3"/>
<path class="i" d="M1683.6,3672.5 L1683.6,3454.7"/>
<!-- usage / aggregation -->
<path class="e" d="M567.3,272.3 C400,290 260,360 205,450 C170,510 155,580 153,639.2"/>
<path class="e" d="M607.5,304 L607.5,661.6"/>
<path class="e" d="M624.2,304 C680,420 740,540 777,661.6"/>
<path class="e" d="M153,774.1 L148.4,984.3"/>
<path class="e" d="M157,1221.9 C165,1270 180,1320 201.8,1350"/>
<path class="e" d="M572,304 C430,450 300,700 270,1050 C262,1150 258,1230 256.8,1300.8"/>
<path class="e" d="M311.4,1421.5 C352,1418 352,1494 311.4,1492"/>
<path class="e" d="M567.3,268.6 C300,300 60,420 24,622 C5,850 15,1100 48,1286 C80,1480 130,1750 182,1950 C230,2150 320,2450 383,2665 C420,2800 480,3000 546,3180.2"/>
<path class="e" d="M647.6,272.3 C800,290 1000,370 1130,422 C1220,460 1285,510 1319,565.8"/>
<path class="e" d="M647.6,274.8 C800,300 950,380 1050,470 C1110,530 1115,650 1120,750 C1130,900 1150,1000 1230,1130 C1280,1220 1330,1300 1376.6,1348"/>
<path class="e" d="M1324,384.9 C1335,440 1350,500 1356.5,565.8"/>
<path class="e" d="M1338.8,323.3 C1420,400 1480,500 1496,700 C1505,850 1502,1000 1494,1150 C1488,1230 1480,1280 1476,1315.1"/>
<path class="e" d="M1130.7,832 C1090,872 1040,905 980,913 C920,925 860,990 815.5,1040"/>
<path class="e" d="M953.3,751.8 C920,830 870,920 815.5,988"/>
<path class="e" d="M788.3,751.8 C780,820 770,900 757.2,970"/>
<path class="e" d="M620.8,751.8 C640,820 670,900 687.8,970"/>
<path class="e" d="M1376,846.9 L1376,1057.7"/>
<path class="e" d="M1386,1148.5 L1420,1315.1"/>
<path class="e" d="M684,1236.2 L640,1344.3"/>
<path class="e" d="M669.2,1522.2 C720,1560 800,1630 866,1704.4"/>
<path class="e" d="M802.6,1236.2 C950,1480 1060,1700 1143.2,1928"/>
<path class="e" d="M311.4,1499.2 C500,1600 700,1750 820,1825 C870,1838 930,1848 980,1875 C1040,1910 1090,1980 1143.2,2022.7"/>
<path class="e" d="M930.8,1795.2 C945,1860 980,1910 1030,1952 C1070,1990 1110,2040 1143.2,2062"/>
<path class="e" d="M1216,1795.2 L1222.6,1873.5"/>
<path class="e" d="M1377.5,1802.7 L1353.5,1873.5"/>
<path class="e" d="M1523.4,1504 L1799.6,1690"/>
<path class="e" d="M1871,2265.3 C1840,2400 1800,2540 1772,2666.9"/>
<path class="e" d="M1143.2,2242 C1020,2300 900,2430 875,2560 C862,2640 852,2690 850,2739.7"/>
<path class="e" d="M633.7,3180.2 C645,2900 630,2600 700,2495 C780,2440 950,2460 1000,2415 C1060,2370 1100,2320 1143.2,2290"/>
<path class="e" d="M1178,2433.8 C1150,2480 1142,2540 1142,2620 L1141,2940 C1138,3050 1100,3085 1040,3086 C1000,3090 996,3130 995,3200 L988,3555.5"/>
<path class="e" d="M1046.5,3555.5 L1240,3170 C1260,3110 1290,3090 1330,3075 C1375,3050 1393,3000 1393,2925 L1391,2600 C1390,2520 1375,2470 1356.5,2433.8"/>
<path class="e" d="M831,2830.5 C815,2900 790,2990 750,3074 C725,3120 700,3160 675.4,3192"/>
<path class="e" d="M578.7,3476.5 C579,3520 585,3550 602.7,3570"/>
<path class="e" d="M653,3541.2 C650,3520 645,3500 642.4,3476.5"/>
<path class="e" d="M777.7,3373.8 C765,3430 745,3480 729.4,3541.2"/>
<path class="e" d="M1089.6,3030.8 C1105,3080 1120,3140 1150,3170 C1200,3210 1400,3260 1563.4,3302"/>
<path class="e" d="M1313.4,3020.8 C1340,3090 1370,3150 1420,3200 C1460,3235 1510,3262 1563.4,3283"/>
<path class="e" d="M1549,3020.8 C1550,3090 1560,3160 1587,3203.2"/>
<path class="e" d="M1764.7,2903.8 C1772,2980 1785,3100 1752.8,3203.2"/>
<path class="e" d="M1978.4,2903.8 C1980,3050 1950,3140 1880,3200 C1850,3230 1830,3250 1803.4,3266"/>
<path class="e" d="M1732.3,2192 C1730,2330 1770,2440 1900,2470 C2000,2480 2060,2510 2110,2600 C2170,2710 2190,2840 2160,2950 C2120,3080 2020,3220 1803.4,3306"/>
<!-- labels -->
<text class="t" x="226.7" y="457.2">+keys</text>
<text class="t" x="613" y="457.2">+keys</text>
<text class="t" x="707" y="457.2">+keys</text>
<text class="t c" y="419.9"><tspan x="1293">+host</tspan><tspan x="1293" dy="14.7">+user</tspan><tspan x="1293" dy="14.7">+name</tspan><tspan x="1293" dy="14.7">+file</tspan><tspan x="1293" dy="14.7">+log</tspan><tspan x="1293" dy="14.7">+function</tspan></text>
<text class="t" x="1350" y="457.2">+date</text>
<text class="t" x="154" y="934.1">-m_storage</text>
<text class="t" x="298" y="934.1">-m_name</text>
<text class="t" x="686" y="934.1">#m_bridges</text>
<text class="t" x="770.6" y="934.1">#m_attrs</text>
<text class="t" x="868" y="934.1">#m_actors</text>
<text class="t" x="977" y="934.1">#m_timestamp</text>
<text class="t c" y="927.2"><tspan x="1162">+action</tspan><tspan x="1162" dy="14.3">+except</tspan></text>
<text class="t" x="1381" y="934.1">+elements</text>
<text class="t" x="1508.6" y="934.1">+timestamp</text>
<text class="t" x="173" y="1272.4">-m_children</text>
<text class="t" x="676" y="1272.4">#m_property</text>
<text class="t" x="1414.8" y="1272.4">+stack</text>
<text class="t" x="340" y="1458.9">-m_parent</text>
<text class="t c" y="1647.3"><tspan x="152">-m_identity</tspan><tspan x="152" dy="14.3">+s_type</tspan></text>
<text class="t" x="830.4" y="1654.2">+elements</text>
<text class="t" x="1017" y="1654.2">#m_prop</text>
<text class="t" x="1770.5" y="1654.2">+completion</text>
<text class="t" x="794" y="1753">#m_root</text>
<text class="t" x="957" y="1845">-m_bridges</text>
<text class="t" x="1226" y="1845">#m_connectedProps</text>
<text class="t" x="1370" y="1845">+s_palette</text>
<text class="t" x="951" y="2469.4">+elements</text>
<text class="t" x="1824" y="2469.4">-m_lastState</text>
<text class="t" x="697.4" y="2789.5">-m_bridge</text>
<text class="t" x="2186" y="2789.5">+m_page</text>
<text class="t" x="741" y="3129.9">-m_bridgeItem</text>
<text class="t" x="1017.8" y="3129.9">#m_bridgeItem</text>
<text class="t" x="1145.6" y="3129.9">+m_reachableLed</text>
<text class="t" x="1288.6" y="3129.9">-m_slots</text>
<text class="t c" y="3108.1"><tspan x="1464">+m_deviceNameXItemLabel</tspan><tspan x="1464" dy="14.9">+m_positionItemLabel</tspan><tspan x="1464" dy="14.3">+m_statusLabel</tspan><tspan x="1464" dy="14.9">+m_nameItemLabel</tspan></text>
<text class="t" x="1575" y="3129.9">+m_namedPositionComboBox</text>
<text class="t" x="1778" y="3129.9">+m_basdaServiceState</text>
<text class="t" x="1953.6" y="3129.9">+m_progressBar</text>
<text class="t" x="588" y="3512.1">-m_base</text>
<text class="t" x="653" y="3512.1">-m_hopper</text>
<text class="t" x="741" y="3512.1">-m_buffer</text>
</g>
</svg>
